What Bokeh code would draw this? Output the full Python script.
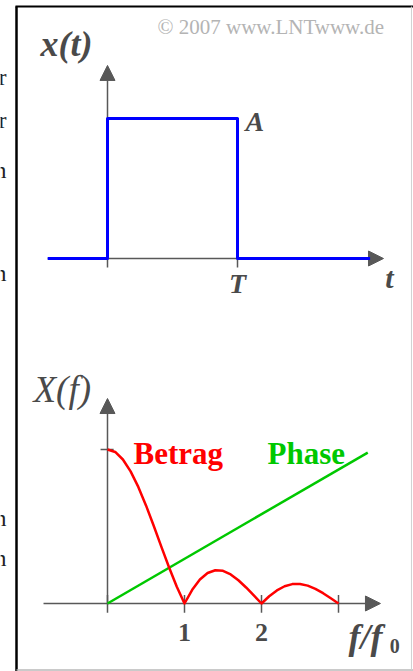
from bokeh.plotting import figure
from bokeh.models import Range1d, Label, Arrow, NormalHead
from bokeh.embed import file_html
from bokeh.resources import INLINE

# ---- time domain: rectangular pulse of height A and duration T ----
A = 1.0
T = 1.0
t_pts = [-0.46, 0.0, 0.0, T, T, 2.02]
x_pts = [0.0, 0.0, A, A, 0.0, 0.0]
t_ticks = [0.0, T]
t_tick_labels = ["", "T"]

# ---- frequency domain: magnitude and phase over f/f0 ----
f_grid = [0.0, 0.1, 0.2, 0.3, 0.4, 0.5, 0.6, 0.7, 0.8, 0.9, 1.0,
          1.1, 1.2, 1.3, 1.4, 1.5, 1.6, 1.7, 1.8, 1.9, 2.0,
          2.1, 2.2, 2.3, 2.4, 2.5, 2.6, 2.7, 2.8, 2.9, 3.0]
betrag = [1.0, 0.984, 0.935, 0.858, 0.757, 0.637, 0.505, 0.368, 0.234, 0.109, 0.0,
          0.089, 0.156, 0.198, 0.216, 0.212, 0.189, 0.151, 0.104, 0.052, 0.0,
          0.047, 0.085, 0.112, 0.126, 0.127, 0.116, 0.095, 0.067, 0.034, 0.0]
phase_f = [0.0, 3.38]
phase_val = [0.0, 0.98]
f_ticks = [0.0, 1.0, 2.0, 3.0]
f_tick_labels = ["", "1", "2", ""]

AXIS = "#585858"
TEXT = "#4a4a4a"
SERIF = "Liberation Serif"

p = figure(width=413, height=671,
           x_range=Range1d(-0.8231, 2.3538), y_range=Range1d(-2.95, 1.8429),
           x_axis_location=None, y_axis_location=None,
           output_backend="svg", toolbar_location=None, min_border=0)
p.grid.visible = False
p.outline_line_color = None
p.background_fill_color = "white"
p.border_fill_color = "white"

# second coordinate system for the spectrum panel
p.extra_x_ranges = {"f": Range1d(-1.3896, 3.974)}
p.extra_y_ranges = {"mag": Range1d(-0.4416, 3.9156)}

# ---- frame around the figure ----
p.segment(x0=[-0.7], y0=[1.8], x1=[-0.7], y1=[-2.95], line_color="black", line_width=2.5)
p.segment(x0=[-0.708], y0=[1.8], x1=[2.36], y1=[1.8], line_color="black", line_width=2)
p.segment(x0=[-0.7], y0=[-2.939], x1=[2.36], y1=[-2.939], line_color="#b8b8b8", line_width=1.5)
p.segment(x0=[2.338], y0=[1.8], x1=[2.338], y1=[-2.939], line_color="#d0d0d0", line_width=1)

# clipped text of the neighbouring column
for ch, yy in [("r", 1.293), ("r", 0.986), ("n", 0.629), ("n", -0.1), ("n", -1.857), ("n", -2.136)]:
    p.add_layout(Label(x=-0.777, y=yy, text=ch, text_font=SERIF, text_font_size="24px",
                       text_color="#222222", text_align="right", text_baseline="middle"))

# ---- upper panel: x(t) ----
p.add_layout(Arrow(end=NormalHead(size=15, fill_color=AXIS, line_color=AXIS),
                   x_start=-0.46, y_start=0, x_end=2.123, y_end=0,
                   line_color=AXIS, line_width=1.5, level="underlay"))
p.add_layout(Arrow(end=NormalHead(size=15, fill_color=AXIS, line_color=AXIS),
                   x_start=0, y_start=0, x_end=0, y_end=1.379,
                   line_color=AXIS, line_width=1.5, level="underlay"))
p.segment(x0=t_ticks, y0=[0.0] * len(t_ticks), x1=t_ticks, y1=[-0.065] * len(t_ticks),
          line_color=AXIS, line_width=1.5)
p.line(t_pts, x_pts, line_color="#0000ff", line_width=3, line_join="round")

for tv, lab in zip(t_ticks, t_tick_labels):
    if lab:
        p.add_layout(Label(x=tv, y=-0.179, text=lab, text_font=SERIF, text_font_size="28px",
                           text_font_style="bold italic", text_color=TEXT,
                           text_align="center", text_baseline="middle"))
p.add_layout(Label(x=-0.515, y=1.529, text="x(t)", text_font=SERIF, text_font_size="36px",
                   text_font_style="bold italic", text_color=TEXT,
                   text_align="left", text_baseline="middle"))
p.add_layout(Label(x=1.062, y=A - 0.02, text="A", text_font=SERIF, text_font_size="28px",
                   text_font_style="bold italic", text_color=TEXT,
                   text_align="left", text_baseline="middle"))
p.add_layout(Label(x=2.169, y=-0.136, text="t", text_font=SERIF, text_font_size="30px",
                   text_font_style="bold italic", text_color=TEXT,
                   text_align="center", text_baseline="middle"))
p.add_layout(Label(x=0.385, y=1.657, text="\u00a9 2007 www.LNTwww.de", text_font=SERIF,
                   text_font_size="21px", text_color="#b4b4b4",
                   text_align="left", text_baseline="middle"))

# ---- lower panel: X(f) ----
p.add_layout(Arrow(end=NormalHead(size=15, fill_color=AXIS, line_color=AXIS),
                   x_start=-0.831, y_start=0, x_end=3.545, y_end=0,
                   line_color=AXIS, line_width=1.5, level="underlay",
                   x_range_name="f", y_range_name="mag"))
p.add_layout(Arrow(end=NormalHead(size=15, fill_color=AXIS, line_color=AXIS),
                   x_start=0, y_start=0, x_end=0, y_end=1.331,
                   line_color=AXIS, line_width=1.5, level="underlay",
                   x_range_name="f", y_range_name="mag"))
p.segment(x0=f_ticks, y0=[0.055] * len(f_ticks), x1=f_ticks, y1=[-0.06] * len(f_ticks),
          line_color=AXIS, line_width=1.5, x_range_name="f", y_range_name="mag")
p.segment(x0=[-0.09], y0=[1.0], x1=[0.08], y1=[1.0],
          line_color=AXIS, line_width=1.5, x_range_name="f", y_range_name="mag")

p.line(phase_f, phase_val, line_color="#00c800", line_width=2.5,
       x_range_name="f", y_range_name="mag")
p.line(f_grid, betrag, line_color="#ff0000", line_width=2.5, line_join="round",
       x_range_name="f", y_range_name="mag")

for fv, lab in zip(f_ticks, f_tick_labels):
    if lab:
        p.add_layout(Label(x=fv, y=-0.188, text=lab, text_font=SERIF, text_font_size="26px",
                           text_font_style="bold", text_color=TEXT,
                           text_align="center", text_baseline="middle",
                           x_range_name="f", y_range_name="mag"))
p.add_layout(Label(x=-0.961, y=1.39, text="X(f)", text_font=SERIF, text_font_size="37px",
                   text_font_style="italic", text_color=TEXT,
                   text_align="left", text_baseline="middle",
                   x_range_name="f", y_range_name="mag"))
p.add_layout(Label(x=0.338, y=0.974, text="Betrag", text_font=SERIF, text_font_size="31px",
                   text_font_style="bold", text_color="#ff0000",
                   text_align="left", text_baseline="alphabetic",
                   x_range_name="f", y_range_name="mag"))
p.add_layout(Label(x=2.078, y=0.974, text="Phase", text_font=SERIF, text_font_size="31px",
                   text_font_style="bold", text_color="#00c800",
                   text_align="left", text_baseline="alphabetic",
                   x_range_name="f", y_range_name="mag"))
p.add_layout(Label(x=3.13, y=-0.22, text="f/f", text_font=SERIF, text_font_size="36px",
                   text_font_style="bold italic", text_color=TEXT,
                   text_align="left", text_baseline="middle",
                   x_range_name="f", y_range_name="mag"))
p.add_layout(Label(x=3.665, y=-0.275, text="0", text_font=SERIF, text_font_size="20px",
                   text_font_style="bold", text_color=TEXT,
                   text_align="left", text_baseline="middle",
                   x_range_name="f", y_range_name="mag"))

open("out.html", "w").write(file_html(p, INLINE))
